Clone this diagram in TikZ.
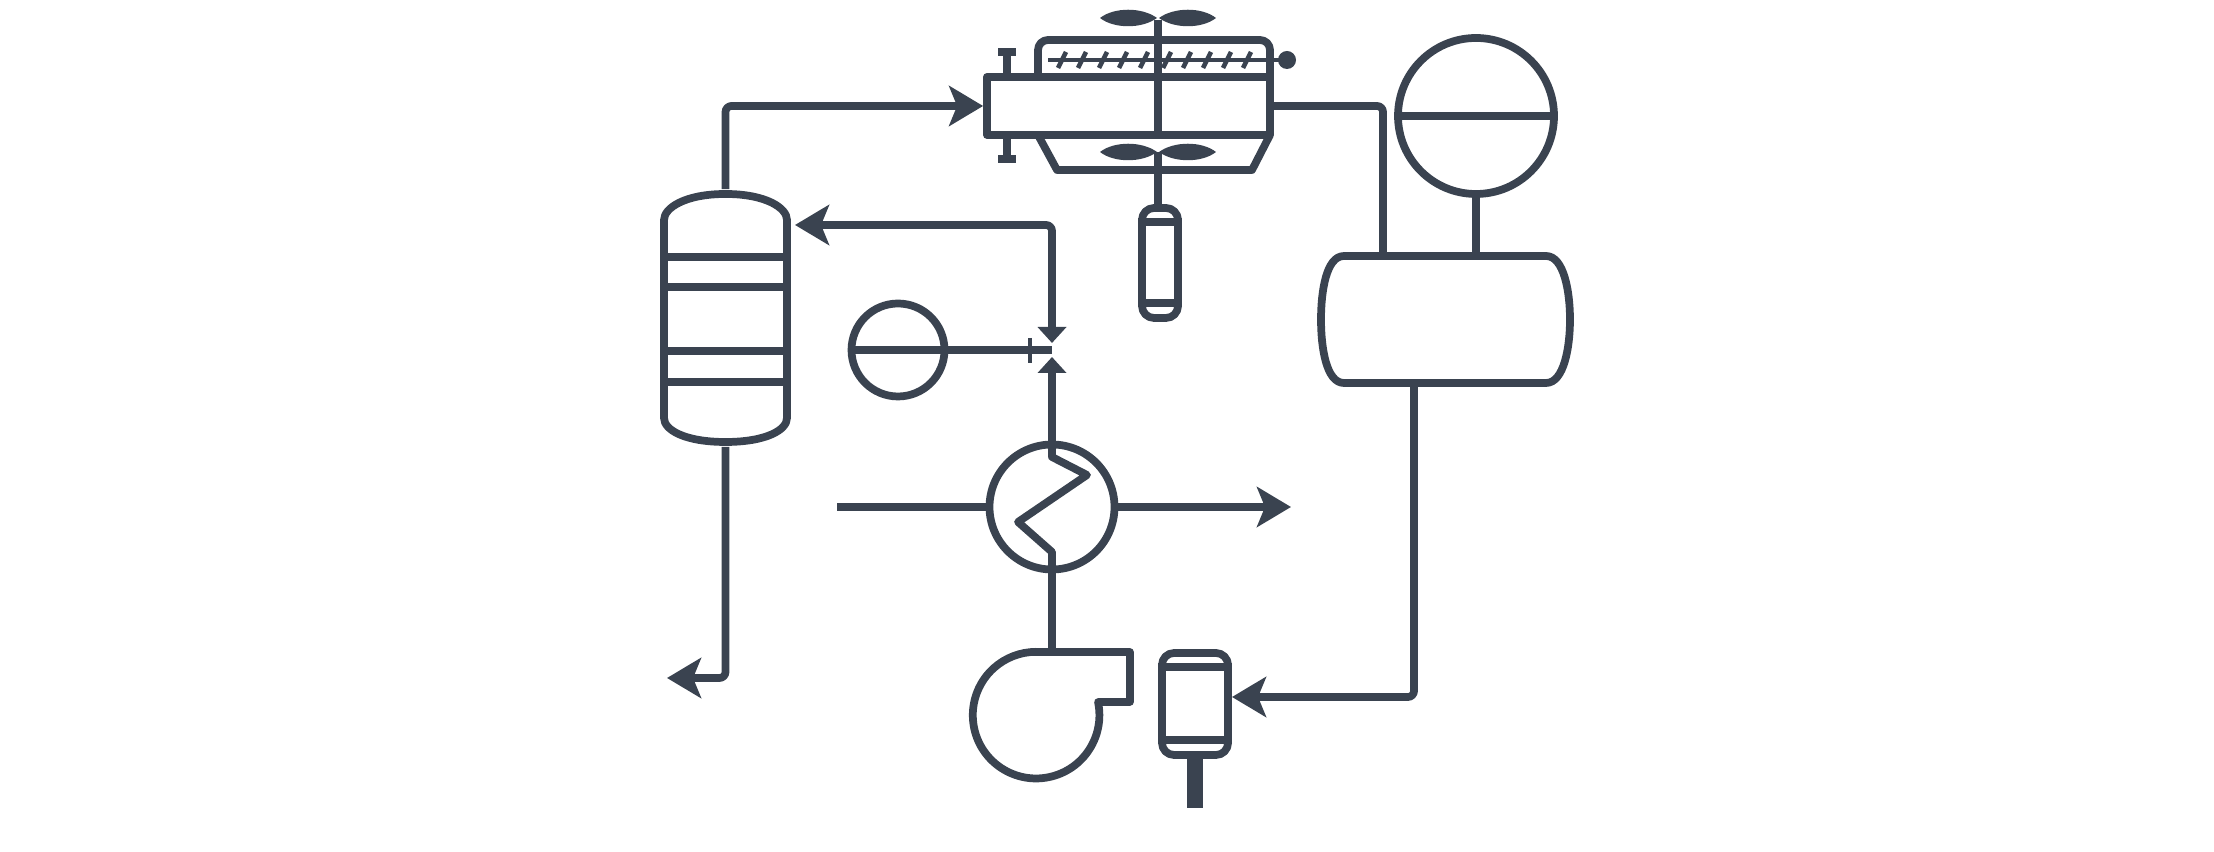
\documentclass[tikz,border=0pt]{standalone}
\usepackage{xcolor}
\usetikzlibrary{arrows.meta}

\definecolor{slate}{HTML}{3A4350}

\tikzset{
  pipe/.style={line width=2.2pt, line join=round, rounded corners=0.06cm},
  thinline/.style={line width=1.3pt},
  bigtip/.tip={Stealth[length=0.34cm, width=0.40cm, inset=0.08cm]},
  smalltip/.tip={Triangle[length=0.16cm, width=0.28cm]},
  drum/.style={draw, circle, inner sep=0pt},
  vessel/.style={inner sep=0pt},
  capsule/.style={draw, rectangle, inner sep=0pt, rounded corners=0.12cm}
}

\newcommand{\blades}[2]{%
  \fill (#1-0.01,#2) .. controls (#1-0.16,#2+0.11) and (#1-0.44,#2+0.11) .. (#1-0.58,#2)
    .. controls (#1-0.44,#2-0.11) and (#1-0.16,#2-0.11) .. (#1-0.01,#2);
  \fill (#1+0.01,#2) .. controls (#1+0.16,#2+0.11) and (#1+0.44,#2+0.11) .. (#1+0.58,#2)
    .. controls (#1+0.44,#2-0.11) and (#1+0.16,#2-0.11) .. (#1+0.01,#2);
}

\begin{document}
\begin{tikzpicture}[color=slate, line width=2.2pt, line join=round]
    \useasboundingbox (0,0) rectangle (22.14,8.52);

    % Column
    \node[vessel, minimum width=1.25cm, minimum height=2.5cm] (column) at (7.255,5.34) {};
    \draw (6.64,6.32) .. controls (6.64,6.44) and (6.85,6.58) .. (7.255,6.58)
      .. controls (7.66,6.58) and (7.87,6.44) .. (7.87,6.32) -- (7.87,4.34)
      .. controls (7.87,4.22) and (7.66,4.10) .. (7.255,4.10)
      .. controls (6.85,4.10) and (6.64,4.22) .. (6.64,4.34) -- cycle;
    \foreach \ty in {5.95,5.65,5.01,4.70}
      \draw (6.64,\ty) -- (7.87,\ty);

    % Dryer
    \node[draw, vessel, minimum width=2.83cm, minimum height=0.58cm] (dryer) at (11.285,7.46) {};
    \draw[rounded corners=0.1cm] (10.38,7.75) |- (12.70,8.12) -- (12.70,7.75);
    \draw (10.38,7.17) -- (10.57,6.82) -- (12.52,6.82) -- (12.70,7.17);
    \draw (11.58,8.32) -- (11.58,7.17);
    \draw (11.58,7.00) -- (11.58,6.44);
    \blades{11.58}{8.34}
    \blades{11.58}{7.00}

    % Coil
    \draw[thinline] (10.48,7.92) -- (12.83,7.92);
    \foreach \tx in {10.62,10.82,11.03,11.23,11.44,11.67,11.87,12.07,12.27,12.47}
      \draw[thinline] (\tx+0.04,8.00) -- (\tx-0.04,7.84);
    \fill (12.87,7.92) circle (0.09);

    % Handles
    \draw (10.07,7.75) -- (10.07,8.00);
    \draw (9.98,8.00) -- (10.16,8.00);
    \draw (10.07,7.17) -- (10.07,6.93);
    \draw (9.98,6.93) -- (10.16,6.93);

    % Small capsule
    \node[capsule, minimum width=0.36cm, minimum height=1.10cm] (capA) at (11.60,5.89) {};
    \draw (capA.west |- 0,6.30) -- (capA.east |- 0,6.30);
    \draw (capA.west |- 0,5.49) -- (capA.east |- 0,5.49);

    % Drum and receiver
    \node[drum, minimum size=1.56cm] (sep) at (14.76,7.36) {};
    \draw (sep.west) -- (sep.east);
    \node[vessel, minimum width=2.49cm, minimum height=1.27cm] (recv) at (14.455,5.325) {};
    \draw (13.44,5.96) -- (15.46,5.96)
      .. controls (15.64,5.96) and (15.70,5.6) .. (15.70,5.325)
      .. controls (15.70,5.05) and (15.64,4.69) .. (15.46,4.69) -- (13.44,4.69)
      .. controls (13.26,4.69) and (13.21,5.05) .. (13.21,5.325)
      .. controls (13.21,5.6) and (13.26,5.96) .. (13.44,5.96) -- cycle;
    \draw (sep.south) -- (sep.south |- recv.north);

    % Small drum and valve
    \node[drum, minimum size=0.93cm] (aux) at (8.98,5.02) {};
    \draw (aux.west) -- (aux.east);
    \coordinate (valve) at (10.52,5.02);
    \coordinate (valveup) at (10.52,5.09);
    \coordinate (valvedown) at (10.52,4.95);
    \draw (aux.east) -- (valve);
    \draw[thinline] (10.30,5.14) -- (10.30,4.89);

    % Heat exchanger
    \node[drum, minimum size=1.25cm] (hx) at (10.52,3.45) {};
    \coordinate (hxin) at (8.37,3.45);
    \coordinate (hxout) at (12.91,3.45);
    \draw (hx.north) -- (10.52,3.95) -- (10.87,3.77) -- (10.18,3.30) -- (10.52,3.00) -- (10.52,2.00);

    % Blower
    \coordinate (blowertop) at (10.361,2.00);
    \draw (blowertop) -- (11.30,2.00) -- (11.30,1.50) -- (10.98,1.50)
      arc[start angle=12, end angle=-270, radius=0.633] -- cycle;

    % Motor
    \node[capsule, minimum width=0.66cm, minimum height=1.02cm] (capB) at (11.95,1.48) {};
    \draw (capB.west |- 0,1.85) -- (capB.east |- 0,1.85);
    \draw (capB.west |- 0,1.12) -- (capB.east |- 0,1.12);
    \coordinate (motorend) at (11.95,0.44);
    \draw[line width=4.5pt] (capB.south) -- (motorend);

    % Pipes
    \coordinate (vent) at (6.67,1.74);
    \coordinate (colin) at (7.95,6.27);
    \coordinate (recvout) at (14.14,4.69);
    \coordinate (motorin) at (12.32,1.55);
    \draw[pipe, -bigtip] (column.north) |- (dryer.west);
    \draw[pipe, -bigtip] (column.south) |- (vent);
    \draw[pipe, bigtip-smalltip] (colin) -| (valveup);
    \draw[pipe, -smalltip] (hx.north) -- (valvedown);
    \draw[pipe] (dryer.east) -| (13.83,5.96);
    \draw[pipe, -bigtip] (recvout) |- (motorin);
    \draw[pipe] (hxin) -- (hx.west);
    \draw[pipe, -bigtip] (hx.east) -- (hxout);
\end{tikzpicture}
\end{document}
